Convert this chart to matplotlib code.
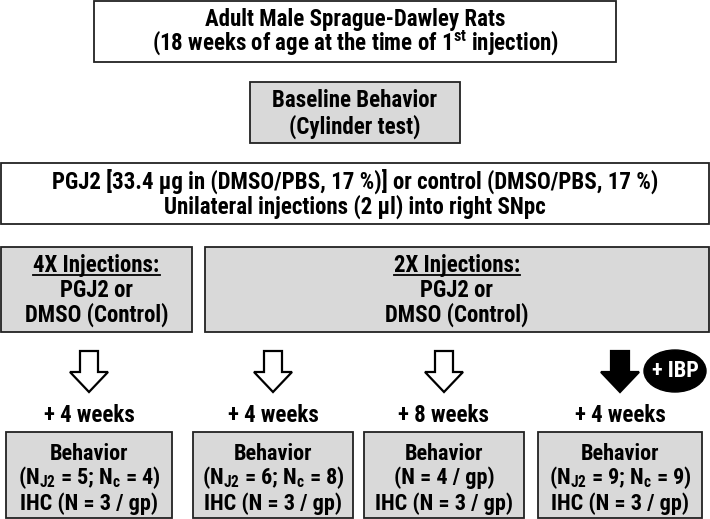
import matplotlib
matplotlib.use("Agg")
import matplotlib.pyplot as plt
from matplotlib.patches import Rectangle, Polygon, Ellipse

# text content of the flow chart
title_lines = ["Adult Male Sprague-Dawley Rats",
               r"(18 weeks of age at the time of 1$^{\mathbf{st}}$ injection)"]
baseline_lines = ["Baseline Behavior", "(Cylinder test)"]
injection_lines = ["PGJ2 [33.4 \u00b5g in (DMSO/PBS, 17 %)] or control (DMSO/PBS, 17 %)",
                   "Unilateral injections (2 \u00b5l) into right SNpc"]
group_heads = ["4X Injections:", "2X Injections:"]
group_body = ["PGJ2 or", "DMSO (Control)"]
delays = ["+ 4 weeks", "+ 4 weeks", "+ 8 weeks", "+ 4 weeks"]
behavior_n = [r"(N$_{\mathbf{J2}}$ = 5; N$_{\mathbf{c}}$ = 4)",
              r"(N$_{\mathbf{J2}}$ = 6; N$_{\mathbf{c}}$ = 8)",
              "(N = 4 / gp)",
              r"(N$_{\mathbf{J2}}$ = 9; N$_{\mathbf{c}}$ = 9)"]
ihc_n = ["IHC (N = 3 / gp)"] * 4
ibp_flag = [False, False, False, True]

plt.rcParams['font.family'] = ['Roboto Condensed', 'DejaVu Sans']
plt.rcParams['mathtext.fontset'] = 'custom'
plt.rcParams['mathtext.rm'] = 'Roboto Condensed:bold'
plt.rcParams['mathtext.bf'] = 'Roboto Condensed:bold'
plt.rcParams['mathtext.it'] = 'Roboto Condensed:bold'

GRAY = "#d9d9d9"
EDGE = "#222222"
FS = 16.5

fig = plt.figure(figsize=(7.10, 5.19), dpi=100)
ax = fig.add_axes([0, 0, 1, 1])
ax.set_xlim(0, 710)
ax.set_ylim(519, 0)
ax.axis("off")


def box(x0, y0, x1, y1, fill):
    ax.add_patch(Rectangle((x0, y0), x1 - x0, y1 - y0, facecolor=fill,
                           edgecolor=EDGE, linewidth=1.3))


# y values below are text baselines
def lines(xc, ys, texts, size=FS):
    out = []
    for y, t in zip(ys, texts):
        out.append(ax.text(xc, y, t, ha="center", va="baseline",
                           fontsize=size, fontweight="bold"))
    return out


# top boxes
box(94, 1, 616, 62, "white")
lines(355, [26, 51], title_lines)
box(250, 82, 460, 143, GRAY)
lines(355, [107, 134], baseline_lines)
box(1, 163, 709, 224, "white")
lines(355, [189, 214], injection_lines)

# injection group boxes
group_x = [(1, 192), (205, 709)]
heads = []
for (x0, x1), h in zip(group_x, group_heads):
    box(x0, 247, x1, 332, GRAY)
    xc = (x0 + x1) / 2
    heads += lines(xc, [272, 297, 322], [h] + group_body)[:1]

# underline the headers
fig.canvas.draw()
r = fig.canvas.get_renderer()
inv = ax.transData.inverted()
for t in heads:
    bb = t.get_window_extent(r)
    (xa, ya), (xb, yb) = inv.transform([[bb.x0, bb.y0], [bb.x1, bb.y1]])
    ax.plot([xa, xb], [274.5, 274.5], color="black", lw=1.3)

# arrows, delays and outcome boxes
col_x = [89, 273, 444, 620]
bottom_x = [(6, 172), (193, 353), (364, 524), (538, 702)]
for xc, d, (x0, x1), bn, ih, ibp in zip(col_x, delays, bottom_x, behavior_n, ihc_n, ibp_flag):
    sw, hw = 9, 19
    pts = [(xc - sw, 351), (xc + sw, 351), (xc + sw, 372), (xc + hw, 372),
           (xc, 392), (xc - hw, 372), (xc - sw, 372)]
    ax.add_patch(Polygon(pts, closed=True, facecolor="black" if ibp else "white",
                         edgecolor="black", linewidth=1.6, joinstyle="miter"))
    if ibp:
        ax.add_patch(Ellipse((675, 371), 62, 42, facecolor="black", edgecolor="black"))
        ax.text(675, 371, "+ IBP", ha="center", va="center", color="white",
                fontsize=16, fontweight="bold")
    lines(xc, [422], [d])
    box(x0, 432, x1, 518, GRAY)
    lines((x0 + x1) / 2, [460, 484, 510], ["Behavior", bn, ih], size=16)

fig.savefig("out.png", dpi=100)
